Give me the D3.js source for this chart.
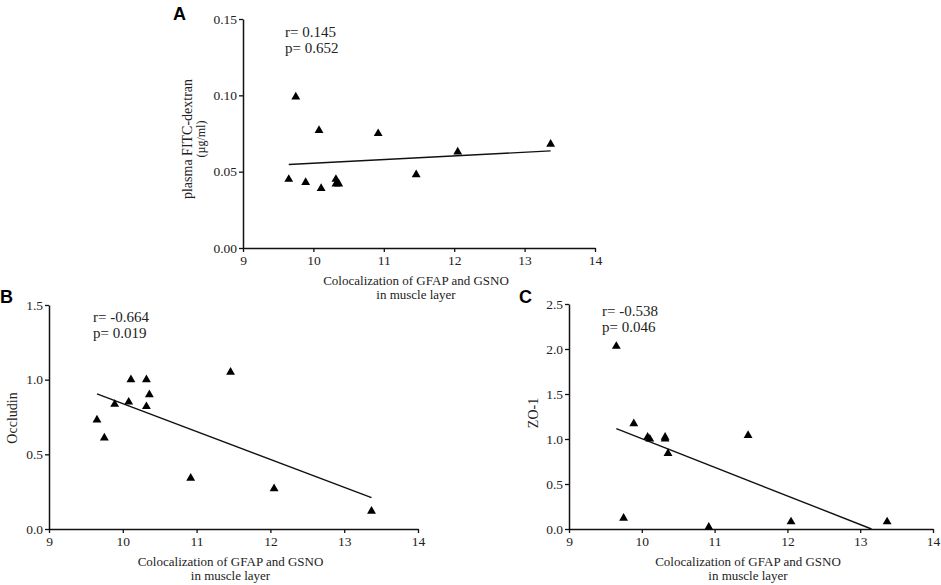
<!DOCTYPE html>
<html>
<head>
<meta charset="utf-8">
<script src="https://cdn.jsdelivr.net/npm/d3@7"></script>
<style>
  body { margin: 0; background: #fff; }
  svg { display: block; }
</style>
</head>
<body>
<div id="container"></div>
<script>
// GFAP/GSNO colocalization (x) shared by all panels
const coloc = [9.65, 9.75, 9.89, 10.08, 10.11, 10.32, 10.32, 10.36, 10.92, 11.46, 12.05, 13.37];

const fitcDextran = [0.045, 0.099, 0.043, 0.077, 0.039, 0.045, 0.042, 0.042, 0.075, 0.048, 0.063, 0.068];
const occludin    = [0.73, 0.61, 0.835, 0.85, 1.00, 1.00, 0.82, 0.90, 0.34, 1.05, 0.27, 0.12];
const zo1         = [2.03, 0.12, 1.17, 1.02, 1.00, 1.02, 1.00, 0.84, 0.02, 1.04, 0.08, 0.08];

const xTicks = [9, 10, 11, 12, 13, 14];
const yTicksA = [0, 0.05, 0.10, 0.15];
const yTicksB = [0, 0.5, 1.0, 1.5];
const yTicksC = [0, 0.5, 1.0, 1.5, 2.0, 2.5];

const statsA = ["r= 0.145", "p= 0.652"];
const statsB = ["r= -0.664", "p= 0.019"];
const statsC = ["r= -0.538", "p= 0.046"];

const xTitle = ["Colocalization of GFAP and GSNO", "in muscle layer"];

const W = 941, H = 585;
const serif = "'Liberation Serif', 'Times New Roman', serif";

const svg = d3.select("#container")
  .append("svg")
  .attr("width", W)
  .attr("height", H);

const panels = [
  { letter: "A", lx: 173, ly: 20, left: 243, right: 595, top: 19, bottom: 248,
    yVals: fitcDextran, yTicks: yTicksA, yFmt: d3.format(".2f"), stats: statsA, sx: 285, sy: 37,
    yLabel: ["plasma FITC-dextran", "(µg/ml)"], ylx: [192, 205], yly: 139 },
  { letter: "B", lx: 0, ly: 303, left: 49, right: 418, top: 305, bottom: 529,
    yVals: occludin, yTicks: yTicksB, yFmt: d3.format(".1f"), stats: statsB, sx: 93, sy: 322,
    yLabel: ["Occludin"], ylx: [17], yly: 418 },
  { letter: "C", lx: 519, ly: 303, left: 569, right: 933, top: 304, bottom: 529,
    yVals: zo1, yTicks: yTicksC, yFmt: d3.format(".1f"), stats: statsC, sx: 602, sy: 316,
    yLabel: ["ZO-1"], ylx: [538], yly: 413 }
];

panels.forEach(p => {
  const g = svg.append("g");

  const x = d3.scaleLinear().domain([9, 14]).range([p.left, p.right]);
  const y = d3.scaleLinear()
    .domain([0, d3.max(p.yTicks)])
    .range([p.bottom, p.top]);

  // axes
  const xAxis = g.append("g")
    .attr("transform", `translate(0,${p.bottom})`)
    .call(d3.axisBottom(x).tickValues(xTicks).tickFormat(d3.format("d")).tickSize(4).tickSizeOuter(0).tickPadding(3));

  const yAxis = g.append("g")
    .attr("transform", `translate(${p.left},0)`)
    .call(d3.axisLeft(y).tickValues(p.yTicks).tickFormat(p.yFmt).tickSize(4).tickSizeOuter(0).tickPadding(2));

  [xAxis, yAxis].forEach(a => {
    a.select(".domain").attr("stroke", "#111").attr("stroke-width", 1.5);
    a.selectAll(".tick line").attr("stroke", "#111").attr("stroke-width", 1.3);
    a.selectAll("text")
      .attr("fill", "#222")
      .style("font-family", serif)
      .style("font-size", "13.5px");
  });

  // regression line (least squares), clipped at y = 0
  const mx = d3.mean(coloc), my = d3.mean(p.yVals);
  const sxy = d3.sum(coloc, (d, i) => (d - mx) * (p.yVals[i] - my));
  const sxx = d3.sum(coloc, d => (d - mx) * (d - mx));
  const slope = sxy / sxx;
  const icpt = my - slope * mx;
  const x0 = d3.min(coloc);
  let x1 = d3.max(coloc);
  if (slope < 0 && icpt + slope * x1 < 0) x1 = -icpt / slope;
  const fit = [x0, x1].map(v => ({ x: v, y: icpt + slope * v }));

  g.append("path")
    .datum(fit)
    .attr("fill", "none")
    .attr("stroke", "#111")
    .attr("stroke-width", 1.4)
    .attr("d", d3.line().x(d => x(d.x)).y(d => y(d.y)));

  // points
  g.selectAll(".pt")
    .data(coloc.map((d, i) => ({ x: d, y: p.yVals[i] })))
    .enter()
    .append("path")
    .attr("class", "pt")
    .attr("transform", d => `translate(${x(d.x)},${y(d.y)})`)
    .attr("d", d3.symbol().type(d3.symbolTriangle).size(34))
    .attr("fill", "#000");

  // r / p text
  p.stats.forEach((s, i) => {
    g.append("text")
      .attr("x", p.sx)
      .attr("y", p.sy + i * 16)
      .style("font-family", serif)
      .style("font-size", "15px")
      .attr("fill", "#222")
      .text(s);
  });

  // x title
  const cx = (x(9) + x(14)) / 2 - 3;
  xTitle.forEach((t, i) => {
    g.append("text")
      .attr("x", cx)
      .attr("y", p.bottom + 37 + i * 14)
      .attr("text-anchor", "middle")
      .style("font-family", serif)
      .style("font-size", "13px")
      .attr("fill", "#222")
      .text(t);
  });

  // y title
  p.yLabel.forEach((t, i) => {
    g.append("text")
      .attr("transform", `translate(${p.ylx[i]},${p.yly}) rotate(-90)`)
      .attr("text-anchor", "middle")
      .style("font-family", serif)
      .style("font-size", i === 0 ? "14px" : "12px")
      .attr("fill", "#222")
      .text(t);
  });

  // panel letter
  g.append("text")
    .attr("x", p.lx)
    .attr("y", p.ly)
    .style("font-family", "'Liberation Sans', Arial, sans-serif")
    .style("font-weight", "bold")
    .style("font-size", "18px")
    .attr("fill", "#000")
    .text(p.letter);
});
</script>
</body>
</html>
